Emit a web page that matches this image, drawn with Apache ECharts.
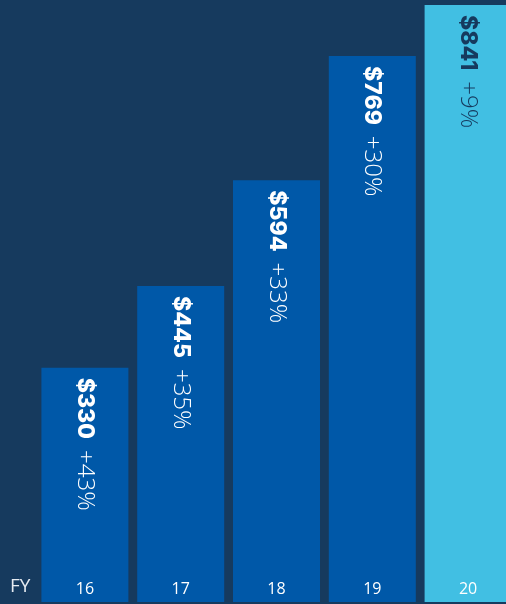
<!DOCTYPE html>
<html>
<head>
<meta charset="utf-8">
<script src="https://cdn.jsdelivr.net/npm/echarts@6/dist/echarts.min.js"></script>
<style>
  html, body { margin: 0; padding: 0; background: #163a5e; overflow: hidden; }
  /* chart is a little wider than the window: the last bar is cut at the right edge */
  #chart { width: 516px; height: 604px; }
</style>
</head>
<body>
<div id="chart"></div>
<script>
const years = ["16", "17", "18", "19", "20"];
const revenue = [330, 445, 594, 769, 841];
const growth = ["+43%", "+35%", "+33%", "+30%", "+9%"];

const barBlue = "#0058a8";
const barCyan = "#41bfe3";
const navy = "#163a5e";

const chart = echarts.init(document.getElementById("chart"));

const data = revenue.map((v, i) => {
  const last = i === revenue.length - 1;
  const c = last ? navy : "#ffffff";
  return {
    value: v,
    itemStyle: { color: last ? barCyan : barBlue },
    label: {
      color: c,
      rich: {
        b: { fontWeight: 800, fontSize: 23, color: c, fontFamily: "Inter" },
        n: { fontWeight: 300, fontSize: 24, color: c, fontFamily: "Open Sans", padding: [0, 0, 0, 11] },
      },
    },
  };
});

chart.setOption({
  backgroundColor: navy,
  animation: false,
  grid: { left: 37, right: 0, top: 0, bottom: 2 },
  xAxis: {
    type: "category",
    data: years,
    z: 10,
    axisLine: { show: false },
    axisTick: { show: false },
    axisLabel: {
      inside: true,
      margin: 5,
      color: "#ffffff",
      fontSize: 16,
      fontFamily: "Open Sans",
    },
  },
  yAxis: {
    type: "value",
    min: 0,
    max: 848,
    show: false,
    splitLine: { show: false },
  },
  graphic: [
    {
      type: "text",
      left: 10,
      top: 577,
      style: { text: "FY", fill: "#e6ebf1", font: "19px 'Open Sans'" },
    },
  ],
  series: [
    {
      type: "bar",
      barWidth: 87,
      data: data,
      label: {
        show: true,
        position: "insideTop",
        rotate: -90,
        align: "left",
        verticalAlign: "middle",
        distance: 10,
        formatter: (p) => "{b|$" + p.value + "}{n|" + growth[p.dataIndex] + "}",
      },
    },
  ],
});
</script>
</body>
</html>
